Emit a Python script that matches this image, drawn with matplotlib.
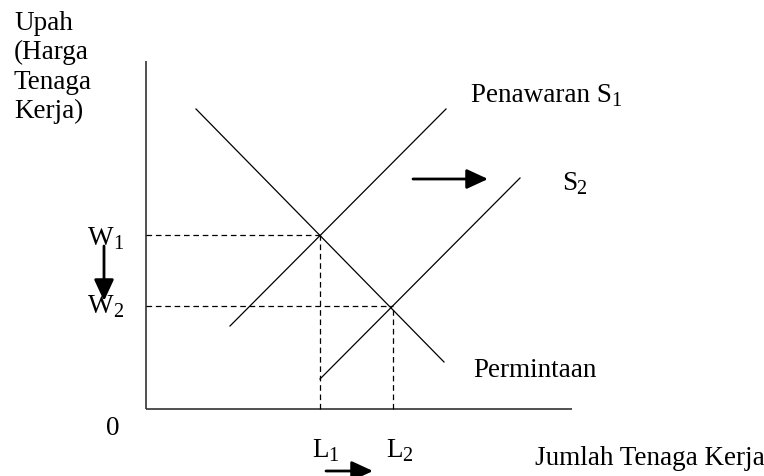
import matplotlib
matplotlib.use("Agg")
import matplotlib.pyplot as plt

plt.rcParams['font.family'] = ['Liberation Serif', 'DejaVu Serif']

# Economic coordinates (origin at axis corner)
axis_top = 348
axis_right = 426
demand_x = [50, 298]
demand_y = [300, 47]
s1_x = [84, 300]
s1_y = [83, 300]
s2_x = [174, 374]
s2_y = [30, 231]
eq_L = [174, 247]
eq_W = [174, 103]

fig = plt.figure(figsize=(7.64, 4.77), dpi=100)
ax = fig.add_axes([0, 0, 1, 1])
ax.set_xlim(-146, 618)
ax.set_ylim(-67, 410)
ax.axis('off')

# axes
ax.plot([0, 0], [0, axis_top], color='#333333', lw=1.2, solid_capstyle='butt')
ax.plot([0, axis_right], [0, 0], color='#333333', lw=1.2, solid_capstyle='butt')

# curves
ax.plot(demand_x, demand_y, color='black', lw=0.9)
ax.plot(s1_x, s1_y, color='black', lw=0.9)
ax.plot(s2_x, s2_y, color='black', lw=0.9)

# dashed guides
for L, W in zip(eq_L, eq_W):
    ax.plot([0, L], [W, W], color='black', lw=0.9, dashes=(4.5, 3))
    ax.plot([L, L], [0, W], color='black', lw=0.9, dashes=(4.5, 3))

fs = 19.5
def txt(x, y, s, sub=None):
    t = ax.text(x, y, s, fontsize=fs, va='baseline', ha='left')
    if sub is not None:
        ax.annotate(sub, xy=(1, 0), xycoords=t, xytext=(-0.5, 1.5),
                    textcoords='offset points', fontsize=fs * 0.75,
                    va='baseline', ha='left')
    return t

# y label
ylab = ['Upah', '(Harga', 'Tenaga', 'Kerja)']
for i, s in enumerate(ylab):
    txt(-132, 380 - 29.3 * i, s)

txt(325, 308, 'Penawaran S', '1')
txt(416, 220, 'S', '2')
txt(327, 33, 'Permintaan')
txt(-58, 165, 'W', '1')
txt(-58, 97, 'W', '2')
txt(-40, -25, '0')
txt(166, -47, 'L', '1')
txt(240, -47, 'L', '2')
txt(389, -55, 'Jumlah Tenaga Kerja')

ap = dict(arrowstyle='-|>,head_length=1.3,head_width=0.6', color='black', lw=2, shrinkA=0, shrinkB=0)
ax.annotate('', xy=(342, 230), xytext=(267, 230), arrowprops=ap)
ax.annotate('', xy=(-42, 108), xytext=(-42, 163), arrowprops=ap)
ax.annotate('', xy=(227, -62), xytext=(180, -62), arrowprops=ap)

fig.savefig('out.png', dpi=100)
